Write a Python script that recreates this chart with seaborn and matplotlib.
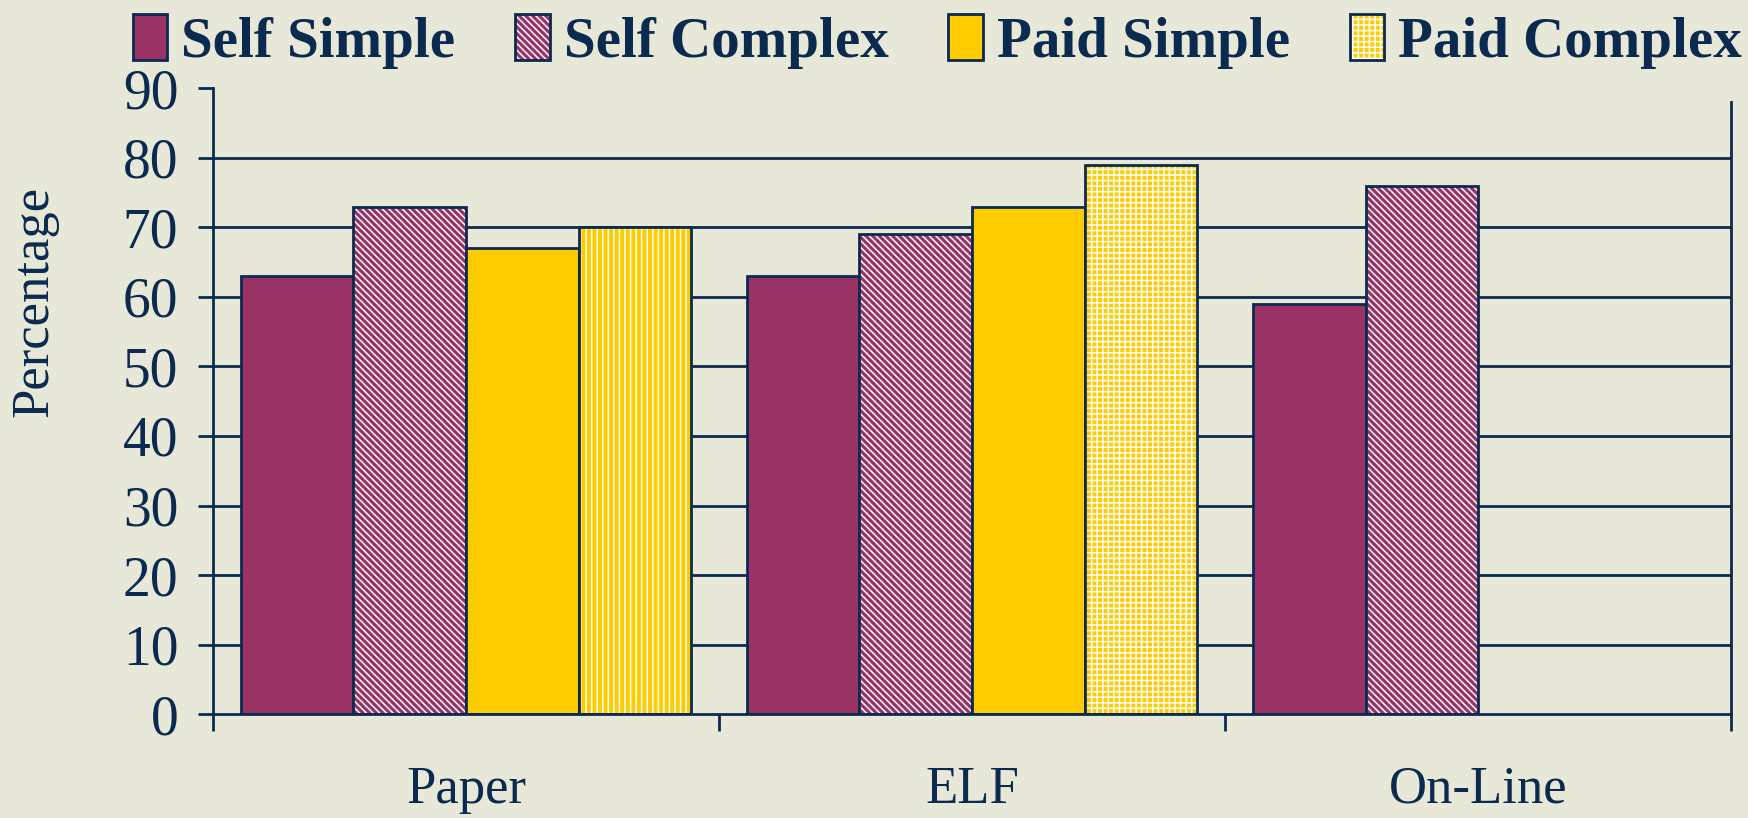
import pandas as pd
import seaborn as sns
import matplotlib.pyplot as plt
import matplotlib.patches as mpatches
from matplotlib.ticker import FixedLocator

# dados
methods = ["Paper", "ELF", "On-Line"]
groups = ["Self Simple", "Self Complex", "Paid Simple", "Paid Complex"]
self_simple = [63, 63, 59]
self_complex = [73, 69, 76]
paid_simple = [67, 73, None]
paid_complex = [70, 79, None]

rows = []
for g, vals in zip(groups, [self_simple, self_complex, paid_simple, paid_complex]):
    for m, v in zip(methods, vals):
        if v is not None:
            rows.append({"Method": m, "Group": g, "Percentage": v})
df = pd.DataFrame(rows)

navy = "#0B2A4F"
bg = "#E8E8D9"
magenta = "#993366"
yellow = "#FFCC00"
palette = {"Self Simple": magenta, "Self Complex": magenta,
           "Paid Simple": yellow, "Paid Complex": yellow}
hatches = {"Self Simple": "", "Self Complex": "\\\\\\\\\\",
           "Paid Simple": "", "Paid Complex": "+++"}

sns.set_theme(style="white")
plt.rcParams["font.family"] = ["Liberation Serif", "DejaVu Serif"]
plt.rcParams["hatch.linewidth"] = 1.1

fig = plt.figure(figsize=(17.49, 8.18), dpi=100, facecolor=bg)
ax = fig.add_axes([0.1218, 0.127, 0.868, 0.765])
ax.set_facecolor(bg)

sns.barplot(data=df, x="Method", y="Percentage", hue="Group", order=methods,
            hue_order=groups, palette=palette, width=0.89, saturation=1,
            edgecolor=navy, linewidth=2.0, legend=False, ax=ax, zorder=3)

# hachuras brancas
for g, cont in zip(groups, ax.containers):
    present = [m for m in methods if m in df[df["Group"] == g]["Method"].values]
    for m, bar in zip(present, cont):
        h = hatches[g]
        if g == "Paid Complex" and m == "Paper":
            h = "|||"
        bar.set_hatch(h)
        bar.set_edgecolor(navy)
        bar._hatch_color = (1, 1, 1, 1)

ax.set_xlim(-0.5, 2.5)
ax.set_ylim(0, 90)
ax.set_yticks(range(0, 100, 10))
for y in range(10, 90, 10):
    ax.axhline(y, color=navy, lw=2.0, zorder=1)

ax.spines["top"].set_visible(False)
for s in ["left", "bottom", "right"]:
    ax.spines[s].set_color(navy)
    ax.spines[s].set_linewidth(2.0)
    ax.spines[s].set_zorder(4)
ax.spines["right"].set_bounds(0, 88)

ax.xaxis.set_minor_locator(FixedLocator([-0.5, 0.5, 1.5, 2.5]))
ax.tick_params(axis="x", which="major", bottom=True, length=0, pad=37, labelsize=38, labelcolor=navy)
ax.tick_params(axis="x", which="minor", bottom=True, length=12, width=2.0, color=navy, direction="out")
ax.tick_params(axis="y", length=11, width=2.0, color=navy, direction="out", pad=14,
               labelsize=40, labelcolor=navy, left=True)

ax.set_xlabel("")
ax.set_ylabel("Percentage", fontsize=38, color=navy)
ax.yaxis.set_label_coords(-0.102, 0.66)

handles = []
for g in groups:
    p = mpatches.Patch(facecolor=palette[g], edgecolor=navy, linewidth=2.0, hatch=hatches[g])
    p._hatch_color = (1, 1, 1, 1)
    handles.append(p)
leg = fig.legend(handles, groups, loc="upper center", bbox_to_anchor=(0.536, 1.045), ncol=4,
                 frameon=False, handlelength=0.6, handleheight=0.85, handletextpad=0.25,
                 columnspacing=1.05, prop={"family": "Liberation Serif", "weight": "bold", "size": 41})
for t in leg.get_texts():
    t.set_color(navy)

fig.savefig("out.png", dpi=100, facecolor=bg)
